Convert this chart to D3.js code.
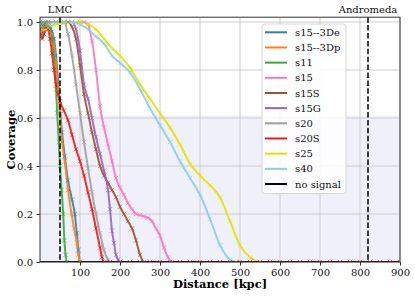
<!DOCTYPE html>
<html lang="en">
<head>
<meta charset="UTF-8">
<title>Coverage vs distance</title>
<script src="https://cdn.jsdelivr.net/npm/d3@7.9.0/dist/d3.min.js"></script>
<style>
    body { margin: 0; background: #fff; }
    svg { display: block; font-family: "DejaVu Serif", serif; }
</style>
</head>
<body>
<svg id="chart" width="415" height="297"></svg>
<script>
// series names and colours (legend order)
const seriesNames = ['s15--3De', 's15--3Dp', 's11', 's15', 's15S', 's15G', 's20', 's20S', 's25', 's40', 'no signal'];
const seriesColors = ['#2f7dbd', '#ff8416', '#3aa93a', '#ff74bb', '#a0522d', '#9a62c0', '#9f9f9f', '#f01818', '#e2e200', '#8ccde6', '#000000'];

// distance [kpc] / coverage per series
const dist_s15_3De = [0, 5, 10, 15, 20, 25, 30, 35, 40, 45, 50, 55, 62, 70, 80, 87, 92, 96, 100, 900];
const cov_s15_3De  = [0.97, 0.95, 0.98, 0.99, 0.97, 0.98, 0.96, 0.93, 0.86, 0.76, 0.64, 0.54, 0.44, 0.34, 0.26, 0.2, 0.12, 0.05, 0, 0];

const dist_s15_3Dp = [0, 5, 10, 15, 20, 25, 30, 35, 40, 45, 50, 55, 62, 70, 79, 85, 92, 96, 100, 900];
const cov_s15_3Dp  = [0.96, 0.98, 0.97, 0.99, 0.98, 0.96, 0.95, 0.9, 0.83, 0.72, 0.615, 0.5, 0.42, 0.3, 0.2, 0.14, 0.08, 0.03, 0, 0];

const dist_s11 = [0, 5, 10, 15, 20, 25, 30, 35, 40, 43, 47, 50, 54, 58, 61, 64, 67, 900];
const cov_s11  = [0.97, 0.99, 0.99, 1.0, 0.98, 0.97, 0.93, 0.85, 0.72, 0.62, 0.5, 0.4, 0.3, 0.2, 0.09, 0.03, 0, 0];

const dist_s15 = [0, 20, 40, 60, 80, 100, 110, 120, 130, 140, 150, 160, 170, 180, 190, 200, 210, 220, 230, 240, 250, 260, 270, 280, 290, 300, 310, 320, 330, 900];
const cov_s15  = [1, 1, 1, 1, 1, 1, 1, 0.99, 0.92, 0.8, 0.65, 0.56, 0.49, 0.42, 0.35, 0.31, 0.28, 0.245, 0.22, 0.2, 0.195, 0.19, 0.185, 0.17, 0.14, 0.11, 0.06, 0.02, 0, 0];

const dist_s15S = [0, 20, 40, 60, 70, 80, 90, 100, 110, 120, 130, 140, 150, 160, 170, 180, 190, 200, 210, 220, 230, 240, 250, 260, 900];
const cov_s15S  = [1, 1, 1, 1, 1, 0.98, 0.93, 0.82, 0.7, 0.62, 0.54, 0.47, 0.4, 0.36, 0.33, 0.3, 0.27, 0.23, 0.2, 0.17, 0.14, 0.09, 0.03, 0, 0];

const dist_s15G = [0, 20, 40, 60, 80, 90, 100, 110, 120, 130, 140, 150, 160, 170, 175, 180, 185, 190, 195, 200, 900];
const cov_s15G  = [1, 1, 1, 1, 1, 0.97, 0.88, 0.74, 0.68, 0.6, 0.52, 0.45, 0.38, 0.3, 0.22, 0.13, 0.08, 0.03, 0.01, 0, 0];

const dist_s20 = [0, 20, 40, 60, 70, 80, 90, 100, 110, 120, 130, 140, 150, 160, 170, 175, 900];
const cov_s20  = [1, 1, 1, 1, 0.95, 0.86, 0.74, 0.62, 0.5, 0.39, 0.29, 0.2, 0.12, 0.05, 0.01, 0, 0];

const dist_s20S = [0, 5, 10, 15, 20, 25, 30, 35, 40, 45, 50, 60, 70, 80, 90, 100, 110, 120, 130, 140, 150, 155, 160, 900];
const cov_s20S  = [0.97, 0.93, 0.95, 0.98, 0.97, 0.93, 0.87, 0.8, 0.74, 0.7, 0.67, 0.63, 0.59, 0.53, 0.47, 0.42, 0.36, 0.29, 0.22, 0.14, 0.06, 0.02, 0, 0];

const dist_s25 = [0, 20, 40, 60, 80, 100, 120, 140, 160, 180, 200, 225, 250, 275, 300, 325, 350, 375, 400, 425, 450, 475, 500, 525, 550, 900];
const cov_s25  = [0.96, 0.975, 0.99, 0.995, 1.0, 1.0, 0.99, 0.97, 0.93, 0.89, 0.86, 0.81, 0.74, 0.68, 0.62, 0.56, 0.49, 0.41, 0.36, 0.32, 0.27, 0.17, 0.07, 0.02, 0, 0];

const dist_s40 = [0, 20, 40, 60, 80, 100, 120, 140, 160, 180, 200, 225, 250, 275, 300, 325, 350, 375, 400, 425, 450, 475, 490, 900];
const cov_s40  = [0.98, 0.99, 1.0, 1.0, 1.0, 0.99, 0.97, 0.94, 0.91, 0.86, 0.83, 0.79, 0.72, 0.64, 0.57, 0.5, 0.42, 0.35, 0.28, 0.18, 0.07, 0.01, 0, 0];

const dist_nosignal = [0, 900];
const cov_nosignal  = [0, 0];

// zero-coverage samples of s20S along the baseline
const s20SBaseline = [175, 200, 225, 250, 275, 300, 325, 350, 375, 400, 425, 450, 475, 500, 525, 550, 575, 600, 625, 650, 675, 700, 725, 750, 775, 800, 825, 850, 875, 900];

// reference objects
const refNames = ['LMC', 'Andromeda'];
const refDist = [50, 820];

// shaded band upper limit
const bandTop = 0.61;

const xTicks = [100, 200, 300, 400, 500, 600, 700, 800, 900];
const yTicks = [0, 0.2, 0.4, 0.6, 0.8, 1.0];

const dists = [dist_s15_3De, dist_s15_3Dp, dist_s11, dist_s15, dist_s15S, dist_s15G, dist_s20, dist_s20S, dist_s25, dist_s40, dist_nosignal];
const covs = [cov_s15_3De, cov_s15_3Dp, cov_s11, cov_s15, cov_s15S, cov_s15G, cov_s20, cov_s20S, cov_s25, cov_s40, cov_nosignal];

const series = seriesNames.map((name, i) => ({
    name: name,
    color: seriesColors[i],
    points: dists[i].map((d, j) => [d, covs[i][j]])
}));

const svg = d3.select('#chart');
const plotLeft = 40, plotRight = 400, plotTop = 17.2, plotBottom = 262;

const x = d3.scaleLinear().domain([0, 900]).range([plotLeft, plotRight]);
const y = d3.scaleLinear().domain([0, 1.02]).range([plotBottom, plotTop]);

svg.append('defs').append('clipPath').attr('id', 'plot-clip')
    .append('rect')
    .attr('x', plotLeft).attr('y', plotTop)
    .attr('width', plotRight - plotLeft).attr('height', plotBottom - plotTop);

// shaded band
svg.append('rect')
    .attr('x', plotLeft).attr('y', y(bandTop))
    .attr('width', plotRight - plotLeft).attr('height', y(0) - y(bandTop))
    .attr('fill', '#f0f0fb');

// grid
svg.append('g').selectAll('line').data(xTicks).enter().append('line')
    .attr('x1', d => x(d)).attr('x2', d => x(d))
    .attr('y1', plotTop).attr('y2', plotBottom)
    .attr('stroke', '#c8c8c8').attr('stroke-width', 0.9);
svg.append('g').selectAll('line').data(yTicks).enter().append('line')
    .attr('x1', plotLeft).attr('x2', plotRight)
    .attr('y1', d => y(d)).attr('y2', d => y(d))
    .attr('stroke', '#c8c8c8').attr('stroke-width', 0.9);

const plot = svg.append('g').attr('clip-path', 'url(#plot-clip)');

const line = d3.line()
    .x(d => x(d[0]))
    .y(d => y(d[1]))
    .curve(d3.curveMonotoneX);

// lines
plot.selectAll('path.series')
    .data(series)
    .enter()
    .append('path')
    .attr('class', 'series')
    .attr('d', d => line(d.points))
    .attr('fill', 'none')
    .attr('stroke', d => d.color)
    .attr('stroke-width', 2)
    .attr('stroke-opacity', 0.9);

// x markers
const cross = 'M-2.2,-2.2L2.2,2.2M-2.2,2.2L2.2,-2.2';
series.filter(s => s.name !== 'no signal').forEach(s => {
    plot.append('g').selectAll('path')
        .data(s.points.slice(0, -1))
        .enter()
        .append('path')
        .attr('d', cross)
        .attr('transform', d => `translate(${x(d[0])},${y(d[1])})`)
        .attr('fill', 'none')
        .attr('stroke', s.color)
        .attr('stroke-width', 1)
        .attr('stroke-opacity', 0.6);
});
plot.append('g').selectAll('path')
    .data(s20SBaseline)
    .enter()
    .append('path')
    .attr('d', cross)
    .attr('transform', d => `translate(${x(d)},${y(0)})`)
    .attr('fill', 'none')
    .attr('stroke', seriesColors[7])
    .attr('stroke-width', 1)
    .attr('stroke-opacity', 0.6);

// reference lines
svg.append('g').selectAll('line').data(refDist).enter().append('line')
    .attr('x1', d => x(d)).attr('x2', d => x(d))
    .attr('y1', plotTop).attr('y2', plotBottom)
    .attr('stroke', '#000').attr('stroke-width', 1.5)
    .attr('stroke-dasharray', '5.5,2.4');
svg.append('g').selectAll('text').data(refNames).enter().append('text')
    .attr('x', (d, i) => x(refDist[i]))
    .attr('y', 13)
    .attr('text-anchor', 'middle')
    .attr('font-size', 10)
    .attr('fill', '#111')
    .text(d => d);

// frame
svg.append('rect')
    .attr('x', plotLeft).attr('y', plotTop)
    .attr('width', plotRight - plotLeft).attr('height', plotBottom - plotTop)
    .attr('fill', 'none').attr('stroke', '#333').attr('stroke-width', 1);

// axes
const xAxis = d3.axisBottom(x).tickValues(xTicks).tickSize(3.5).tickPadding(3.5).tickFormat(d3.format('d'));
const yAxis = d3.axisLeft(y).tickValues(yTicks).tickSize(3.5).tickPadding(3.5).tickFormat(d3.format('.1f'));

const gx = svg.append('g').attr('transform', `translate(0,${plotBottom})`).call(xAxis);
const gy = svg.append('g').attr('transform', `translate(${plotLeft},0)`).call(yAxis);
[gx, gy].forEach(g => {
    g.select('.domain').remove();
    g.selectAll('line').attr('stroke', '#333');
    g.selectAll('text').attr('font-size', 10).attr('font-family', '"DejaVu Serif", serif').attr('fill', '#111');
});

// axis labels
svg.append('text')
    .attr('x', (plotLeft + plotRight) / 2).attr('y', 288)
    .attr('text-anchor', 'middle')
    .attr('font-size', 11.5).attr('font-weight', 'bold')
    .text('Distance [kpc]');
svg.append('text')
    .attr('transform', `translate(15,${(plotTop + plotBottom) / 2}) rotate(-90)`)
    .attr('text-anchor', 'middle')
    .attr('font-size', 11.5).attr('font-weight', 'bold')
    .text('Coverage');

// legend
const legend = svg.append('g');
legend.append('rect')
    .attr('x', 262).attr('y', 24)
    .attr('width', 84).attr('height', 169.5)
    .attr('rx', 3)
    .attr('fill', '#fff').attr('fill-opacity', 0.85)
    .attr('stroke', '#d6d6d6').attr('stroke-width', 1);

const items = legend.selectAll('g.item')
    .data(series)
    .enter()
    .append('g')
    .attr('class', 'item')
    .attr('transform', (d, i) => `translate(0,${32.3 + i * 15.17})`);
items.append('line')
    .attr('x1', 265).attr('x2', 287)
    .attr('stroke', d => d.color)
    .attr('stroke-width', 2);
items.append('text')
    .attr('x', 295).attr('y', 3.6)
    .attr('font-size', 10)
    .attr('fill', '#111')
    .text(d => d.name);
</script>
</body>
</html>
